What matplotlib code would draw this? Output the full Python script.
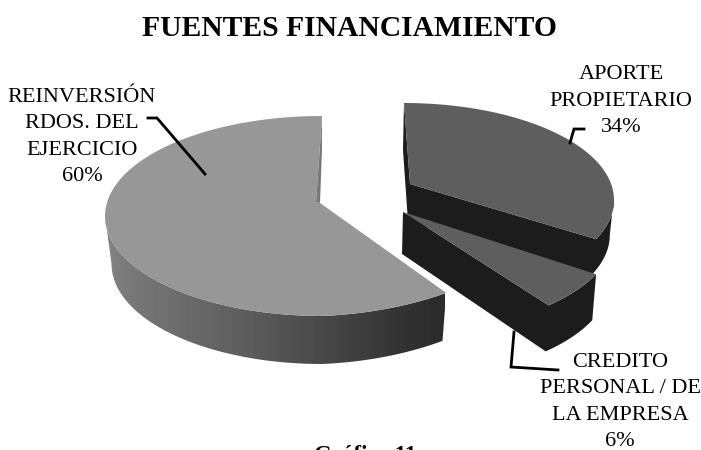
import numpy as np
import matplotlib
matplotlib.use("Agg")
import matplotlib.pyplot as plt
from matplotlib.patches import Polygon

plt.rcParams["font.family"] = ["Liberation Serif", "DejaVu Serif"]

title = "FUENTES FINANCIAMIENTO"
caption = "Gráfico 11"
categories = ["APORTE\nPROPIETARIO", "CREDITO\nPERSONAL / DE\nLA EMPRESA", "REINVERSIÓN\nRDOS. DEL\nEJERCICIO"]
values = [34, 6, 60]


def rim(t0, t1, c, rx, ry, dz=0, shrink=1.0, lift=0, n=80):
    # points along the ellipse edge, angles in degrees
    t = np.radians(np.linspace(t0, t1, n))
    x = c[0] + rx * shrink * np.cos(t)
    y = c[1] + dz - ry * np.sin(t) - lift * np.clip(np.cos(t), 0, None)
    return np.column_stack([x, y])


fig = plt.figure(figsize=(7.01, 4.5), dpi=100)
ax = fig.add_axes([0, 0, 1, 1])
ax.set_xlim(0, 701)
ax.set_ylim(450, 0)
ax.axis("off")

sweep = [v * 3.6 for v in values]

# big slice, goes counter clockwise from the top
c_main = (322, 216)
rx_main, ry_main = 217, 100
depth_main = 48
lift_main = 9
end_main = 90 + sweep[2] * 0.995
top = rim(180, end_main, c_main, rx_main, ry_main, lift=lift_main)
bottom = rim(end_main, 180, c_main, rx_main, ry_main, depth_main, 0.97, lift_main)
side = Polygon(np.vstack([top, bottom]), closed=True, fc="none", ec="none")
ax.add_patch(side)
grad = np.interp(np.linspace(105, 445, 340), [105, 130, 250, 400, 445],
                 [0.52, 0.47, 0.36, 0.2, 0.17])
img = ax.imshow(grad[None, :], extent=(105, 445, 370, 200), cmap="gray", vmin=0, vmax=1,
                aspect="auto", zorder=1)
img.set_clip_path(side)
ax.set_xlim(0, 701)
ax.set_ylim(450, 0)

face = rim(90, end_main, c_main, rx_main, ry_main, lift=lift_main)
face = np.vstack([face, [(320, 203), (316, 202)]])
ax.add_patch(Polygon(face, closed=True, fc="#979797", ec="none", zorder=2))
ax.add_patch(Polygon([(322, 117), (316, 202), (320, 203), (322, 150)], closed=True,
                     fc="#787878", ec="none", zorder=2))

# aporte, pulled out to the right
c_ap = (404, 200)
rx_ap, ry_ap = 210, 97
end_ap = 90 - sweep[0] * 0.93
apex_ap = (410, 184)
edge = rim(90, end_ap, c_ap, rx_ap, ry_ap)
side_ap = np.vstack([[apex_ap], rim(end_ap, 2, c_ap, rx_ap, ry_ap),
                     rim(0, end_ap, c_ap, rx_ap, ry_ap, 35, 0.98), [(408, 222), (403, 150), (404, 103)]])
ax.add_patch(Polygon(side_ap, closed=True, fc="#1c1c1c", ec="none", zorder=3))
ax.add_patch(Polygon(np.vstack([edge, [apex_ap]]), closed=True, fc="#5e5e5e", ec="none", zorder=4))

# credito, below aporte
c_cr = (404, 235)
end_cr = end_ap - sweep[1] * 1.05
apex_cr = (403, 212)
face_cr = rim(end_ap, end_cr, c_cr, rx_ap, ry_ap)
side_cr = np.vstack([[apex_cr], face_cr[::-1], rim(end_ap, end_cr, c_cr, rx_ap, ry_ap, 46, 0.98),
                     [(402, 254)]])
ax.add_patch(Polygon(side_cr, closed=True, fc="#1c1c1c", ec="none", zorder=5))
ax.add_patch(Polygon(np.vstack([[apex_cr], face_cr]), closed=True, fc="#5e5e5e", ec="none", zorder=6))

# leader lines
ax.plot([148, 157, 205], [118, 118, 174], color="black", lw=2, zorder=7, solid_joinstyle="miter")
ax.plot([584, 574, 570], [129, 129, 143], color="black", lw=2, zorder=7, solid_joinstyle="miter")
ax.plot([514, 511, 558], [332, 367, 370], color="black", lw=2, zorder=7, solid_joinstyle="miter")

# text
ax.text(349.5, 28, title, ha="center", va="center", fontsize=21.3, fontweight="bold", color="black")
ax.text(365, 461, caption, ha="center", va="baseline", fontsize=16.5, fontweight="bold", color="black",
        clip_on=True)
label_pos = [(621, 101), (620, 402), (82, 137)]
for cat, v, (x, y) in zip(categories, values, label_pos):
    ax.text(x, y, f"{cat}\n{v}%", ha="center", va="center", fontsize=16, color="black",
            linespacing=1.52, zorder=8)

fig.savefig("out.png", dpi=100)
